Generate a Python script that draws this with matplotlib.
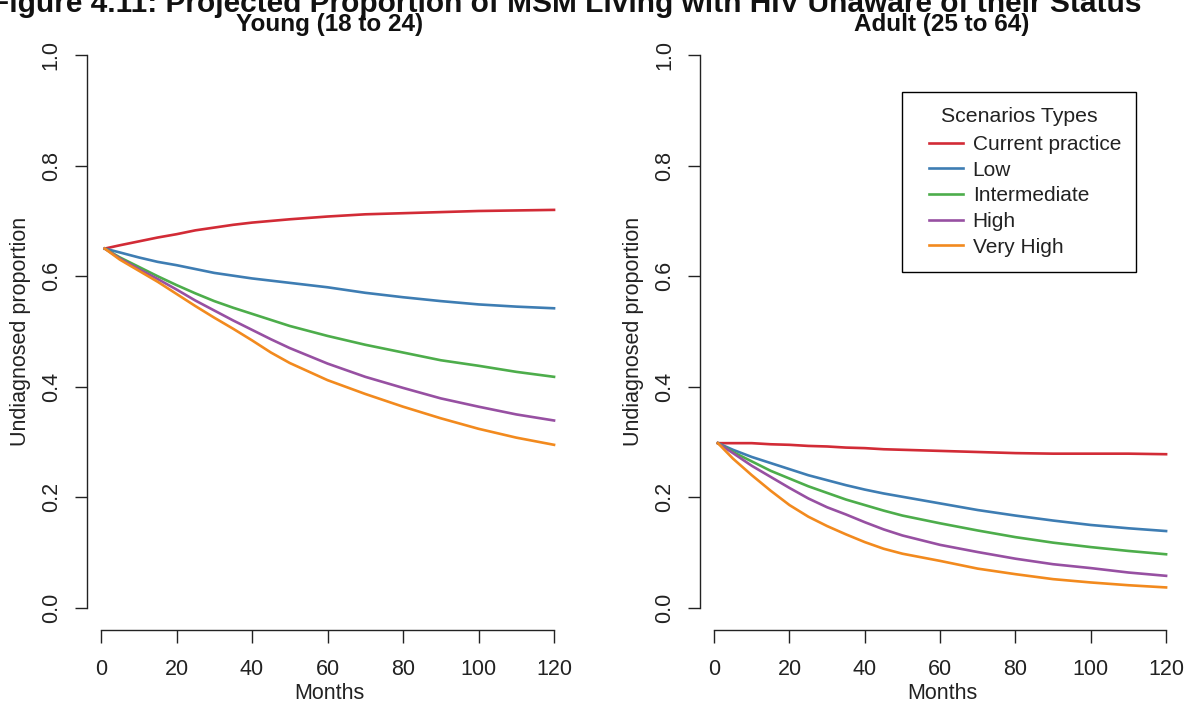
import numpy as np
import matplotlib
matplotlib.use("Agg")
import matplotlib.pyplot as plt
from matplotlib.legend_handler import HandlerLine2D

plt.rcParams['font.family'] = ['Liberation Sans', 'DejaVu Sans']

# ---------------- data ----------------
months = [1, 5, 10, 15, 20, 25, 30, 35, 40, 45, 50, 60, 70, 80, 90, 100, 110, 120]

scenarios = ["Current practice", "Low", "Intermediate", "High", "Very High"]
colors = ["#D22B36", "#3E7DB3", "#4DAD4B", "#9750A2", "#F28A1E"]

young_current = [.650, .656, .663, .670, .676, .683, .688, .693, .697, .700, .703, .708, .712, .714, .716, .718, .719, .720]
young_low = [.650, .643, .634, .626, .620, .613, .606, .601, .596, .592, .588, .580, .570, .562, .555, .549, .545, .542]
young_inter = [.650, .634, .617, .600, .584, .569, .555, .543, .532, .521, .510, .492, .476, .462, .448, .438, .427, .418]
young_high = [.650, .632, .613, .595, .576, .556, .538, .520, .503, .486, .470, .442, .418, .398, .379, .364, .350, .339]
young_vhigh = [.650, .630, .610, .590, .568, .546, .525, .505, .484, .462, .443, .412, .387, .364, .343, .324, .308, .295]

adult_current = [.298, .298, .298, .296, .295, .293, .292, .290, .289, .287, .286, .284, .282, .280, .279, .279, .279, .278]
adult_low = [.298, .286, .273, .262, .251, .240, .231, .222, .214, .207, .201, .189, .177, .167, .158, .150, .144, .139]
adult_inter = [.298, .282, .265, .248, .234, .220, .208, .196, .186, .176, .167, .153, .140, .128, .118, .110, .103, .097]
adult_high = [.298, .280, .257, .237, .217, .198, .182, .169, .155, .142, .131, .114, .101, .089, .079, .072, .064, .058]
adult_vhigh = [.298, .270, .240, .212, .186, .165, .148, .133, .119, .107, .098, .085, .071, .061, .052, .046, .041, .037]

x_ticks = [0, 20, 40, 60, 80, 100, 120]
y_ticks = [0.0, 0.2, 0.4, 0.6, 0.8, 1.0]

main_title = "Figure 4.11: Projected Proportion of MSM Living with HIV Unaware of their Status"
panel_titles = ["Young (18 to 24)", "Adult (25 to 64)"]
x_label = "Months"
y_label = "Undiagnosed proportion"
legend_title = "Scenarios Types"

panels = [
    [young_current, young_low, young_inter, young_high, young_vhigh],
    [adult_current, adult_low, adult_inter, adult_high, adult_vhigh],
]

# ---------------- figure ----------------
W, H = 1187, 704
fig = plt.figure(figsize=(W / 100, H / 100), dpi=100)

FS = 15.5
ax_rects = [
    [86.8 / W, 74 / H, (572 - 86.8) / W, (671 - 74) / H],
    [700.0 / W, 74 / H, (1184 - 700.0) / W, (671 - 74) / H],
]

axes = []
for i, rect in enumerate(ax_rects):
    ax = fig.add_axes(rect)
    for series, col, name in zip(panels[i], colors, scenarios):
        ax.plot(months, series, color=col, lw=1.9, label=name, solid_joinstyle='round')
    ax.set_xlim(-3.76, 124.76)
    ax.set_ylim(-0.04, 1.04)
    ax.set_xticks(x_ticks)
    ax.set_yticks(y_ticks)
    ax.set_xticklabels([str(t) for t in x_ticks])
    ax.set_yticklabels([f"{t:.1f}" for t in y_ticks])
    for s in ['top', 'right']:
        ax.spines[s].set_visible(False)
    ax.spines['left'].set_bounds(0, 1)
    ax.spines['bottom'].set_bounds(0, 120)
    for s in ['left', 'bottom']:
        ax.spines[s].set_linewidth(1.0)
        ax.spines[s].set_color('#222222')
    ax.tick_params(axis='both', length=9, width=1.0, color='#222222',
                   labelsize=FS, labelcolor='#222222')
    ax.tick_params(axis='y', pad=9, labelrotation=90)
    for lab in ax.get_yticklabels():
        lab.set_va('center')
        lab.set_ha('right')
    ax.tick_params(axis='x', pad=12)
    ax.set_xlabel(x_label, fontsize=FS, color='#222222', labelpad=2)
    ax.set_ylabel(y_label, fontsize=FS, color='#222222', labelpad=7)
    ax.patch.set_alpha(0)
    axes.append(ax)

# panel titles
fig.text((86.8 + 572) / 2 / W, 1 - 31 / H, panel_titles[0], ha='center', va='baseline',
         fontsize=17.5, fontweight='bold', color='#111111')
fig.text((700 + 1184) / 2 / W, 1 - 31 / H, panel_titles[1], ha='center', va='baseline',
         fontsize=17.5, fontweight='bold', color='#111111')

# main title (partially cut off at the top, as in the reference)
fig.text(566 / W, 1 - 11.5 / H, main_title, ha='center', va='baseline',
         fontsize=21.5, fontweight='bold', color='#111111')


class RightLine(HandlerLine2D):
    seg = 24.0

    def get_xdata(self, legend, xdescent, ydescent, width, height, fontsize):
        x1 = -xdescent + width
        x0 = x1 - self.seg
        return np.array([x0, x1]), np.array([(x0 + x1) / 2])


LEG_FS = 15
handles, labels = axes[1].get_legend_handles_labels()
leg = axes[1].legend(handles, labels, title=legend_title,
                     loc='upper right', bbox_to_anchor=(1136 / W, 1 - 92 / H),
                     bbox_transform=fig.transFigure, borderaxespad=0,
                     fontsize=LEG_FS, title_fontsize=15.3, frameon=True, fancybox=False,
                     edgecolor='black', framealpha=1, borderpad=0.72,
                     handlelength=2.2, handletextpad=0.48, labelspacing=0.32,
                     handler_map={plt.Line2D: RightLine()})
leg.get_frame().set_linewidth(1.0)
leg._legend_box.sep = 0.32 * LEG_FS + 1.6
for t in leg.get_texts():
    t.set_color('#222222')
leg.get_title().set_color('#222222')

fig.savefig("out.png", dpi=100)
